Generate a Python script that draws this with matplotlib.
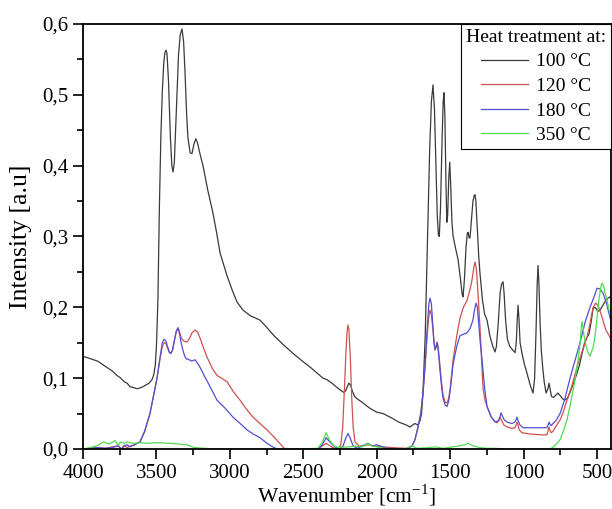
import matplotlib
matplotlib.use("Agg")
import matplotlib.pyplot as plt
from matplotlib.ticker import MultipleLocator, FuncFormatter

plt.rcParams['font.family'] = ['Liberation Serif', 'DejaVu Serif']
plt.rcParams['mathtext.fontset'] = 'stix'

# ---- Data: (wavenumber, intensity) ----
w_100 = [4000, 3986, 3900, 3850, 3800, 3770, 3748, 3720, 3700, 3680, 3660, 3632, 3600, 3575, 3550,
         3530, 3518, 3508, 3500, 3490, 3480, 3470, 3460, 3450, 3442, 3435, 3428, 3418, 3405, 3395,
         3387, 3378, 3365, 3350, 3338, 3326, 3315, 3305, 3295, 3285, 3270, 3258, 3245, 3232, 3220,
         3205, 3183, 3150, 3115, 3090, 3067, 3020, 2980, 2950, 2910, 2860, 2795, 2750, 2700, 2640,
         2570, 2500, 2450, 2400, 2366, 2339, 2300, 2260, 2240, 2225, 2212, 2200, 2190, 2178, 2165,
         2150, 2134, 2100, 2050, 2000, 1957, 1900, 1850, 1800, 1773, 1755, 1740, 1720, 1705, 1695,
         1685, 1670, 1655, 1640, 1628, 1617, 1607, 1597, 1588, 1580, 1574, 1566, 1556, 1548, 1542,
         1536, 1529, 1523, 1517, 1510, 1503, 1496, 1488, 1480, 1465, 1446, 1430, 1418, 1412, 1403,
         1392, 1383, 1378, 1371, 1365, 1355, 1345, 1336, 1331, 1325, 1315, 1305, 1297, 1280, 1265,
         1249, 1230, 1210, 1195, 1185, 1172, 1160, 1150, 1140, 1133, 1122, 1110, 1095, 1075, 1058,
         1050, 1044, 1038, 1032, 1024, 1011, 995, 977, 955, 936, 925, 915, 908, 902, 896, 888, 880,
         870, 860, 847, 835, 827, 820, 810, 795, 780, 766, 750, 735, 720, 700, 684, 660, 640, 620,
         602, 585, 568, 555, 540, 527, 515, 505, 495, 480, 460, 440, 420, 405]
v_100 = [0.130, 0.130, 0.124, 0.117, 0.110, 0.104, 0.101, 0.095, 0.093, 0.088, 0.087, 0.085, 0.087, 0.090, 0.093,
         0.098, 0.105, 0.118, 0.145, 0.210, 0.340, 0.440, 0.505, 0.545, 0.560, 0.563, 0.558, 0.520, 0.440, 0.400,
         0.391, 0.405, 0.475, 0.555, 0.585, 0.593, 0.575, 0.530, 0.475, 0.438, 0.418, 0.417, 0.430, 0.438, 0.432,
         0.418, 0.400, 0.365, 0.333, 0.305, 0.277, 0.245, 0.222, 0.207, 0.196, 0.188, 0.182, 0.172, 0.160, 0.148,
         0.135, 0.123, 0.115, 0.106, 0.100, 0.098, 0.092, 0.085, 0.082, 0.080, 0.082, 0.088, 0.093, 0.090, 0.081,
         0.074, 0.071, 0.066, 0.058, 0.052, 0.050, 0.044, 0.038, 0.034, 0.031, 0.034, 0.036, 0.034, 0.040, 0.050,
         0.080, 0.160, 0.290, 0.420, 0.490, 0.514, 0.480, 0.400, 0.330, 0.302, 0.300, 0.340, 0.430, 0.490, 0.503,
         0.470, 0.380, 0.320, 0.330, 0.380, 0.405, 0.370, 0.320, 0.300, 0.285, 0.267, 0.240, 0.218, 0.215, 0.240,
         0.285, 0.305, 0.306, 0.298, 0.298, 0.325, 0.350, 0.358, 0.359, 0.350, 0.310, 0.270, 0.248, 0.210, 0.190,
         0.182, 0.160, 0.145, 0.137, 0.145, 0.180, 0.220, 0.233, 0.236, 0.220, 0.180, 0.155, 0.145, 0.140, 0.136,
         0.150, 0.180, 0.203, 0.185, 0.150, 0.135, 0.120, 0.107, 0.090, 0.079, 0.100, 0.170, 0.230, 0.259, 0.235, 0.180, 0.140,
         0.115, 0.095, 0.079, 0.085, 0.093, 0.085, 0.074, 0.073, 0.076, 0.079, 0.075, 0.071, 0.069, 0.072, 0.080, 0.093, 0.105, 0.118,
         0.135, 0.150, 0.158, 0.162, 0.180, 0.198, 0.200, 0.198, 0.194, 0.196, 0.203, 0.210, 0.214, 0.215]

w_120 = [4000, 3950, 3900, 3850, 3800, 3760, 3740, 3720, 3700, 3680, 3650, 3612, 3580, 3544,
         3510, 3496, 3475, 3460, 3448, 3435, 3425, 3412, 3401, 3390, 3378, 3365, 3353, 3342, 3330,
         3310, 3292, 3275, 3258, 3237, 3220, 3200, 3180, 3156, 3120, 3088, 3050, 3019, 2980, 2931,
         2890, 2843, 2800, 2747, 2700, 2660, 2625, 2500, 2400, 2345, 2300, 2260, 2245, 2232, 2220,
         2210, 2202, 2196, 2190, 2180, 2170, 2160, 2148, 2120, 2060, 2000, 1900, 1800, 1760, 1740,
         1720, 1700, 1685, 1670, 1655, 1645, 1637, 1628, 1618, 1610, 1603, 1596, 1590, 1583, 1575,
         1562, 1550, 1535, 1521, 1510, 1500, 1480, 1455, 1433, 1410, 1385, 1365, 1351, 1340, 1331,
         1322, 1315, 1305, 1297, 1285, 1276, 1262, 1249, 1220, 1195, 1181, 1170, 1161, 1150, 1135,
         1113, 1080, 1060, 1050, 1045, 1038, 1030, 1011, 950, 880, 841, 833, 827, 820, 812, 800,
         780, 752, 730, 705, 670, 636, 600, 568, 545, 527, 510, 495, 480, 466, 440, 412, 405]
v_120 = [0.000, 0.001, 0.002, 0.001, 0.003, 0.004, 0.000, 0.005, 0.002, 0.004, 0.006, 0.010, 0.025, 0.050,
         0.085, 0.100, 0.128, 0.145, 0.150, 0.149, 0.143, 0.136, 0.135, 0.140, 0.153, 0.166, 0.171, 0.165, 0.156,
         0.152, 0.151, 0.156, 0.164, 0.168, 0.165, 0.155, 0.143, 0.130, 0.114, 0.104, 0.099, 0.095, 0.082, 0.069,
         0.057, 0.045, 0.037, 0.027, 0.017, 0.008, 0.000, 0.000, 0.000, 0.008, 0.002, 0.000, 0.006, 0.030, 0.085,
         0.135, 0.165, 0.175, 0.170, 0.130, 0.070, 0.030, 0.010, 0.004, 0.006, 0.004, 0.002, 0.001, 0.004, 0.013,
         0.030, 0.050, 0.079, 0.120, 0.165, 0.188, 0.196, 0.190, 0.170, 0.150, 0.140, 0.143, 0.151, 0.146, 0.130,
         0.100, 0.078, 0.066, 0.065, 0.072, 0.085, 0.126, 0.160, 0.185, 0.200, 0.210, 0.225, 0.239, 0.255, 0.264,
         0.255, 0.235, 0.200, 0.172, 0.120, 0.085, 0.068, 0.060, 0.045, 0.039, 0.037, 0.040, 0.045, 0.040, 0.034,
         0.031, 0.029, 0.030, 0.034, 0.038, 0.034, 0.027, 0.023, 0.021, 0.020, 0.020, 0.026, 0.031, 0.026, 0.023, 0.025,
         0.032, 0.041, 0.052, 0.069, 0.090, 0.116, 0.138, 0.158, 0.180, 0.200, 0.206, 0.203, 0.195, 0.186, 0.168, 0.158, 0.155]

w_180 = [4000, 3950, 3900, 3850, 3800, 3760, 3740, 3720, 3700, 3680, 3650, 3612, 3580, 3544,
         3510, 3496, 3475, 3460, 3448, 3435, 3425, 3412, 3401, 3390, 3378, 3365, 3353, 3342, 3330,
         3315, 3305, 3295, 3285, 3260, 3237, 3210, 3183, 3140, 3088, 3030, 2979, 2930, 2883, 2840,
         2795, 2747, 2700, 2672, 2500, 2400, 2370, 2345, 2320, 2290, 2260, 2230, 2210, 2196, 2180,
         2160, 2130, 2100, 2060, 2030, 2000, 1950, 1900, 1800, 1760, 1740, 1720, 1700, 1685, 1670,
         1655, 1645, 1637, 1628, 1618, 1610, 1603, 1596, 1590, 1583, 1575, 1562, 1550, 1535, 1521,
         1510, 1500, 1480, 1455, 1433, 1410, 1385, 1365, 1345, 1333, 1324, 1315, 1305, 1295, 1283,
         1265, 1249, 1220, 1195, 1170, 1160, 1154, 1145, 1135, 1113, 1080, 1060, 1050, 1045, 1038,
         1025, 1004, 950, 880, 841, 833, 827, 820, 812, 800, 780, 752, 720, 684, 650, 616, 580, 548,
         520, 500, 480, 459, 435, 412, 405]
v_180 = [0.000, 0.001, 0.002, 0.001, 0.002, 0.005, 0.000, 0.004, 0.006, 0.003, 0.006, 0.010, 0.025, 0.050,
         0.085, 0.100, 0.130, 0.150, 0.155, 0.152, 0.145, 0.137, 0.135, 0.140, 0.153, 0.166, 0.171, 0.162, 0.148,
         0.136, 0.130, 0.127, 0.127, 0.124, 0.126, 0.118, 0.107, 0.090, 0.069, 0.057, 0.045, 0.036, 0.027, 0.021,
         0.016, 0.008, 0.002, 0.000, 0.000, 0.000, 0.006, 0.016, 0.010, 0.004, 0.000, 0.004, 0.016, 0.022, 0.015,
         0.004, 0.001, 0.004, 0.008, 0.004, 0.006, 0.002, 0.000, 0.000, 0.004, 0.013, 0.030, 0.050, 0.079, 0.120,
         0.175, 0.205, 0.213, 0.205, 0.175, 0.150, 0.140, 0.145, 0.150, 0.143, 0.125, 0.095, 0.073, 0.062, 0.060,
         0.068, 0.082, 0.120, 0.145, 0.160, 0.162, 0.164, 0.170, 0.182, 0.198, 0.206, 0.200, 0.175, 0.150, 0.126,
         0.085, 0.060, 0.045, 0.038, 0.040, 0.046, 0.051, 0.047, 0.042, 0.038, 0.036, 0.038, 0.042, 0.045, 0.040,
         0.034, 0.030, 0.030, 0.030, 0.030, 0.034, 0.038, 0.035, 0.033, 0.036, 0.040, 0.050, 0.070, 0.100, 0.125, 0.150, 0.180, 0.200,
         0.215, 0.227, 0.226, 0.220, 0.205, 0.186, 0.180]

w_350 = [4000, 3950, 3900, 3864, 3820, 3790, 3782, 3760, 3745, 3720, 3700, 3660, 3600, 3564,
         3500, 3400, 3292, 3244, 3100, 2900, 2700, 2500, 2400, 2370, 2345, 2320, 2290, 2250,
         2200, 2150, 2100, 2060, 2030, 2000, 1950, 1900, 1800, 1760, 1740, 1720, 1650, 1600,
         1550, 1450, 1400, 1378, 1350, 1300, 1250, 1200, 1100, 1000, 900, 820, 790, 752,
         730, 705, 685, 663, 645, 629, 615, 608, 602, 596, 590, 582, 565, 548, 525, 510, 500, 488, 475, 466,
         455, 445, 432, 418, 405]
v_350 = [0.000, 0.002, 0.005, 0.010, 0.007, 0.011, 0.012, 0.005, 0.010, 0.008, 0.010, 0.008, 0.009, 0.008,
         0.009, 0.008, 0.006, 0.002, 0.000, 0.000, 0.000, 0.000, 0.001, 0.010, 0.023, 0.012, 0.004, 0.002,
         0.003, 0.004, 0.003, 0.008, 0.004, 0.003, 0.001, 0.000, 0.000, 0.005, 0.002, 0.001, 0.002, 0.003,
         0.001, 0.004, 0.006, 0.008, 0.005, 0.002, 0.001, 0.001, 0.000, 0.000, 0.000, 0.000, 0.004, 0.013,
         0.025, 0.041, 0.060, 0.083, 0.105, 0.126, 0.150, 0.170, 0.180, 0.172, 0.162, 0.152, 0.138, 0.131, 0.145, 0.165, 0.186, 0.210, 0.228, 0.234,
         0.230, 0.220, 0.210, 0.196, 0.186]

series_labels = ['100 °C', '120 °C', '180 °C', '350 °C']
series_colors = ['#3a3a3a', '#d05050', '#5050d0', '#50dc50']
x_ticks = [4000, 3500, 3000, 2500, 2000, 1500, 1000, 500]

fig = plt.figure(figsize=(6.12, 5.09), dpi=100)
ax = fig.add_axes([83/612, 1 - 449/509, (611 - 83)/612, (449 - 24)/509])

for (w, v), lab, col in zip([(w_100, v_100), (w_120, v_120), (w_180, v_180), (w_350, v_350)],
                            series_labels, series_colors):
    ax.plot(w, v, color=col, lw=0.9, label=lab)

ax.set_xlim(4000, 405)
ax.set_ylim(0, 0.6)
ax.set_xticks(x_ticks)
ax.xaxis.set_minor_locator(MultipleLocator(250))
ax.yaxis.set_major_locator(MultipleLocator(0.1))
ax.yaxis.set_minor_locator(MultipleLocator(0.05))
ax.yaxis.set_major_formatter(FuncFormatter(lambda v, p: f"{v:.1f}".replace('.', ',')))
ax.tick_params(which='major', direction='out', length=7, width=1.2, labelsize=15)
ax.tick_params(which='minor', direction='out', length=4, width=1.2)
for s in ax.spines.values():
    s.set_linewidth(1.3)

ax.set_xlabel('Wavenumber [cm$^{\\mathregular{-1}}$]', fontsize=15.5, labelpad=0)
ax.set_ylabel('Intensity [a.u]', fontsize=18.5, labelpad=7)

leg = ax.legend(title='Heat treatment at:', loc='upper right', fontsize=14, title_fontsize=14,
                frameon=True, fancybox=False, framealpha=1, edgecolor='black',
                borderaxespad=0, handlelength=2.4, borderpad=0.25, labelspacing=0.36,
                handletextpad=0.4)
leg.get_frame().set_linewidth(0.8)

fig.savefig('out.png', dpi=100)
